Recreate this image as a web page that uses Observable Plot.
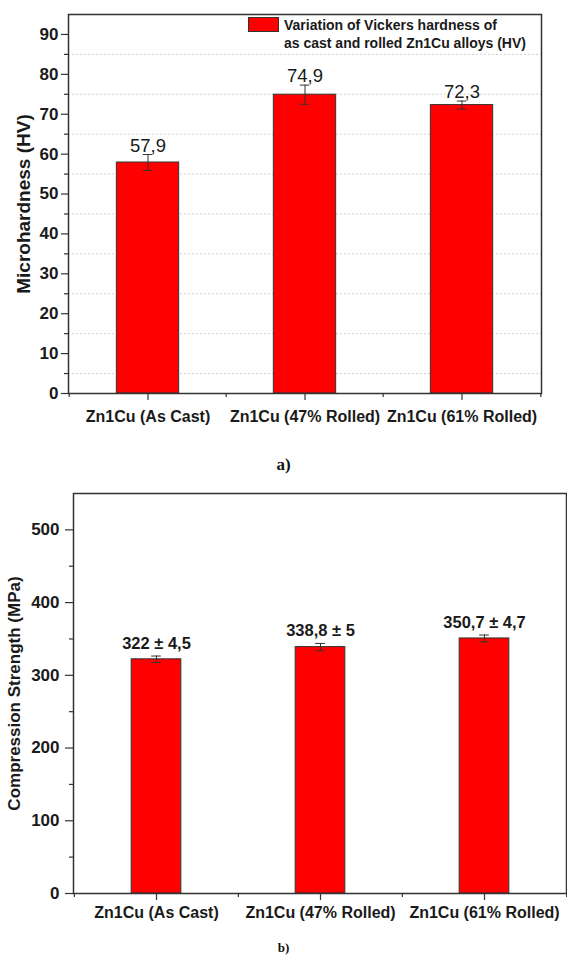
<!DOCTYPE html>
<html>
<head>
<meta charset="utf-8">
<script src="https://cdn.jsdelivr.net/npm/d3@7"></script>
<script src="https://cdn.jsdelivr.net/npm/@observablehq/plot@0.6"></script>
<style>
  html, body { margin: 0; padding: 0; background: #fff; }
  #page { position: relative; width: 567px; height: 961px; overflow: hidden; font-family: "Liberation Sans", Arial, sans-serif; }
  .panel { position: absolute; left: 0; }
  .legend { position: absolute; left: 248px; top: 17px; }
  .legend .sw { position: absolute; left: 0; top: 0; width: 31px; height: 15px; background: #ff0000; border: 1px solid #333; box-sizing: border-box; }
  .legend .tx { position: absolute; left: 36px; top: -1px; width: 270px; font: bold 14px/18px "Liberation Sans", Arial, sans-serif; color: #1a1a1a; white-space: nowrap; }
  .cap { position: absolute; left: 0; width: 567px; text-align: center; font-family: "Liberation Serif", "Times New Roman", serif; font-weight: bold; color: #111; }
</style>
</head>
<body>
<div id="page">
  <div class="panel" id="pa" style="top:0"></div>
  <div class="legend"><div class="sw"></div><div class="tx">Variation of Vickers hardness of<br>as cast and rolled Zn1Cu alloys (HV)</div></div>
  <div class="cap" style="top:455px;font-size:17px;">a)</div>
  <div class="panel" id="pb" style="top:480px"></div>
  <div class="cap" style="top:940px;font-size:13px;">b)</div>
</div>
<script>
// ---- data ----
const categories = ["Zn1Cu (As Cast)", "Zn1Cu (47% Rolled)", "Zn1Cu (61% Rolled)"];
const hardness = [57.9, 74.9, 72.3];
const hardnessErr = [2.0, 2.4, 1.0];
const strength = [322, 338.8, 350.7];
const strengthErr = [4.5, 5, 4.7];
const hardnessTicks = [0, 10, 20, 30, 40, 50, 60, 70, 80, 90];
const hardnessMinor = [5, 15, 25, 35, 45, 55, 65, 75, 85];
const strengthTicks = [0, 100, 200, 300, 400, 500];
const strengthMinor = [50, 150, 250, 350, 450];
const hardnessLabel = "Microhardness (HV)";
const strengthLabel = "Compression Strength (MPa)";

const fmt = v => String(v).replace(".", ",");
const dataA = categories.map((c, i) => ({cat: c, v: hardness[i], e: hardnessErr[i]}));
const dataB = categories.map((c, i) => ({cat: c, v: strength[i], e: strengthErr[i]}));

const SANS = "'Liberation Sans', Arial, sans-serif";
const INK = "#1a1a1a";
const LINE = "#333";

function panel(opts) {
  const {data, width, height, mt, mb, ml, mr, domain, ticks, minor, grid, label, labelDx, labelSize,
         barW, yTickSize, yTickPad, xTickPad, valueText, valueSize, valueWeight, valueDy} = opts;
  const step = (width - ml - mr) / categories.length;
  const inset = (step - barW) / 2;
  const capInset = (step - 10) / 2;
  const marks = [];
  if (grid) marks.push(Plot.ruleY(grid, {stroke: "#d2d2d2", strokeWidth: 1, strokeDasharray: "2,2"}));
  marks.push(
    Plot.barY(data, {x: "cat", y: "v", fill: "#ff0000", stroke: LINE, strokeWidth: 1, insetLeft: inset, insetRight: inset}),
    Plot.ruleX(data, {x: "cat", y1: d => d.v - d.e, y2: d => d.v + d.e, stroke: LINE, strokeWidth: 1}),
    Plot.tickY(data, {x: "cat", y: d => d.v + d.e, stroke: LINE, strokeWidth: 1, insetLeft: capInset, insetRight: capInset}),
    Plot.tickY(data, {x: "cat", y: d => d.v - d.e, stroke: LINE, strokeWidth: 1, insetLeft: capInset, insetRight: capInset}),
    Plot.text(data, {x: "cat", y: d => d.v + d.e, text: valueText, dy: valueDy, lineAnchor: "bottom",
      fontSize: valueSize, fontWeight: valueWeight, fill: INK, fontFamily: SANS}),
    Plot.axisY({ticks, tickSize: yTickSize, tickPadding: yTickPad, fontSize: 17, fontWeight: "bold",
      fill: INK, stroke: LINE, strokeWidth: 1.2, label: null, fontFamily: SANS}),
    Plot.axisY({ticks: minor, tickSize: 4, text: null, stroke: LINE, strokeWidth: 1.2, label: null}),
    Plot.axisX({tickSize: 7, tickPadding: xTickPad, fontSize: 16, fontWeight: "bold", fill: INK,
      stroke: LINE, strokeWidth: 1.2, label: null, fontFamily: SANS}),
    Plot.ruleX(categories, {x: d => d, y1: 0, y2: 0, dx: -step / 2, insetBottom: -4, stroke: LINE, strokeWidth: 1.2}),
    Plot.ruleX(categories.slice(-1), {x: d => d, y1: 0, y2: 0, dx: step / 2, insetBottom: -4, stroke: LINE, strokeWidth: 1.2}),
    Plot.text([label], {frameAnchor: "left", text: d => d, rotate: -90, dx: labelDx, textAnchor: "middle",
      lineAnchor: "middle", fontSize: labelSize, fontWeight: "bold", fill: INK, fontFamily: SANS}),
    Plot.frame({stroke: LINE, strokeWidth: 1.5})
  );
  return Plot.plot({
    width, height, marginTop: mt, marginBottom: mb, marginLeft: ml, marginRight: mr,
    style: {fontFamily: SANS, background: "transparent", overflow: "visible"},
    x: {type: "band", domain: categories, padding: 0, label: null},
    y: {domain, label: null},
    marks
  });
}

document.getElementById("pa").appendChild(panel({
  data: dataA, width: 567, height: 470, mt: 14, mb: 77, ml: 68, mr: 26,
  domain: [0, 95], ticks: hardnessTicks, minor: hardnessMinor, grid: hardnessMinor,
  label: hardnessLabel, labelDx: -45, labelSize: 19, barW: 63,
  yTickSize: 7, yTickPad: 3, xTickPad: 10,
  valueText: d => fmt(d.v), valueSize: 18.5, valueWeight: "normal", valueDy: -3
}));

document.getElementById("pb").appendChild(panel({
  data: dataB, width: 567, height: 450, mt: 13, mb: 37, ml: 73, mr: 1,
  domain: [0, 550], ticks: strengthTicks, minor: strengthMinor, grid: null,
  label: strengthLabel, labelDx: -59, labelSize: 17, barW: 50,
  yTickSize: 8, yTickPad: 6, xTickPad: 6,
  valueText: d => `${fmt(d.v)} \u00b1 ${fmt(d.e)}`, valueSize: 16.5, valueWeight: "bold", valueDy: -7
}));
</script>
</body>
</html>
